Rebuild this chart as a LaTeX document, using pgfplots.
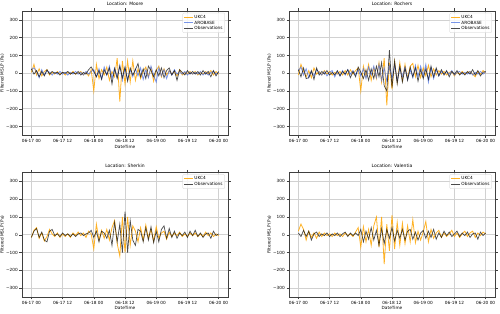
\documentclass[border=0pt]{standalone}
\usepackage{fontspec}
\setmainfont{DejaVu Sans}
\usepackage{pgfplots}
\usepackage{pgfplotstable}
\pgfplotsset{compat=1.18}

\definecolor{ukc}{HTML}{FFA500}
\definecolor{aro}{HTML}{4169E1}
\definecolor{obs}{HTML}{000000}

% Filtered MSLP, hourly from 06-17 00 (t in hours)
\pgfplotstableread{
t  ukc  aro  obs
0    5   20   25
1   50   30   -5
2  -10   10   15
3   25  -25  -20
4  -15   20   10
5   10  -10  -15
6   20   15   20
7  -10    5   -5
8    5  -10   10
9   -5    5    0
10  10   -5    5
11  -5   10  -10
12   5   -5    5
13 -10    5    0
14   5  -10   10
15  -5    5   -5
16  10   -5    5
17  -5   10   -5
18   0   -5   10
19  10    5  -10
20 -10  -10    5
21   5   10   -5
22 -15   -5   20
23  20   10   35
24 -100  20   10
25  50  -20  -20
26 -30   25   15
27  20  -30  -35
28 -10   35   20
29  35  -10  -10
30 -40   40   30
31  10  -30  -60
32 -20   30   25
33  85  -20  -30
34 -160  45   40
35  70  -40  -25
36 -60   30   35
37  70  -35  -45
38 -50   20   30
39  70  -20  -10
40 -40   25   20
41  25  -15   55
42 -30   30  -20
43  10  -35   25
44  35   20  -30
45 -20  -25   40
46  30   40   15
47 -45  -10  -20
48  15  -50   20
49  40   30  -15
50 -20  -15   30
51  25   20  -25
52 -10  -30   15
53  15   15   30
54  -5  -10  -10
55  10   20   15
56 -15   -5  -40
57  20   10   20
58 -10   -5    5
59   5   10  -10
60  -5  -10   15
61  10    5   -5
62  -5   -5   10
63  10    5   -5
64 -10   -5   10
65   5   10  -10
66  -5  -10   15
67  10    5   -5
68  -5  -10   10
69  15    5  -20
70 -10   10   15
71  10   -5  -15
72  -5    5   10
}\moore

\pgfplotstableread{
t  ukc  aro  obs
0  -10   15   20
1   50   35  -20
2   10  -10   30
3  -20   25  -30
4   15  -25  -25
5  -25   10   15
6   30  -15  -35
7   -5   20   30
8   10    5  -10
9  -10  -10   10
10  15   10   -5
11  -5  -15   15
12  10    5  -10
13 -10   15    5
14   5  -20  -10
15  -5   10   15
16  10  -15  -15
17 -10   15   10
18  15  -10   -5
19 -10   20   20
20  20   -5  -25
21  -5   15   10
22  15  -10  -20
23  30   20   35
24 -100 -15    5
25  40   25  -30
26 -20  -30   20
27  50   35  -40
28 -40  -10   25
29  30   40  -30
30 -30  -25   40
31  60   50  -20
32 -50  -40   60
33  85   30  -70
34 -180 -45 -100
35  60   40  130
36 -90  -30  -80
37  65   45   70
38 -50  -40  -60
39  60   30   40
40 -40  -20  -50
41  50   35   30
42 -30  -35  -40
43  40   20   35
44  55  -25  -20
45 -20   45   30
46  45  -20  -45
47 -25   40   20
48  30  -15  -30
49 -15   50   25
50  45  -50  -35
51 -20   30   40
52  25  -30  -20
53 -10   20   30
54  15  -15  -15
55  -5   10   20
56  10   -5  -10
57 -10   10   15
58   5   -5  -20
59  10   15   10
60 -15  -10   -5
61   5    5   15
62  -5   10  -10
63  10   -5    5
64  -5    5  -10
65   5   -5   10
66  10   10   -5
67  -5  -10   20
68 -20    5  -10
69  10   -5   15
70  -5   10  -15
71  15   -5    5
72   0    5   10
}\rochers

\pgfplotstableread{
t  ukc  obs
0  -15  -15
1   25   20
2   40   35
3  -20  -15
4   10   15
5  -35  -30
6  -10  -40
7   30   20
8    5   30
9  -10   -5
10  10    5
11 -15  -10
12   5   10
13 -10   -5
14   5    5
15 -15  -10
16  10    5
17  -5  -10
18  15    5
19  -5   10
20  10   -5
21 -15    5
22  20   10
23   5   25
24 -80  -15
25  60   20
26 -30  -40
27  25   20
28 -20   10
29  30  -20
30 -30   25
31  40  -60
32  80   70
33 -50  -40
34 -120  60
35 100 -100
36 -100 130
37 100 -100
38 -60   80
39  50  -30
40  20  -60
41 -40   30
42  40   20
43 -30  -40
44  55   40
45 -20  -30
46  30   45
47 -35  -45
48  45   20
49 -20  -40
50  10   30
51  20   50
52 -25  -20
53  15   35
54 -10  -15
55  10   20
56  -5  -20
57  15   10
58 -10   -5
59   5   15
60 -10  -15
61  10   20
62  -5   -5
63  10   25
64 -10  -10
65   5   10
66 -10  -15
67  15    5
68  -5   10
69  10  -20
70 -10   20
71   5   -5
72  -5    5
}\sherkin

\pgfplotstableread{
t  ukc  obs
0   20   10
1   60  -10
2   30   25
3  -30  -10
4   20   20
5  -15  -30
6   10    5
7  -20   15
8   15  -10
9  -10    5
10  10   -5
11  -5   10
12   5  -10
13 -10    5
14  10   -5
15  -5   10
16   5  -10
17 -10    5
18  10   15
19  -5  -10
20   5   10
21 -10   -5
22  15   10
23  40   -5
24 -70   30
25  45  -40
26 -40   20
27  30  -25
28 -60   40
29  50  -30
30 100   25
31 -70  -60
32 100   35
33 -165 -50
34  60   30
35 -90  -20
36 110   40
37 -80  -35
38  70   25
39 -60  -20
40  65   30
41 -50  -30
42  50   20
43 -40   30
44  85  -25
45 -45   15
46  20  -30
47 -30   10
48  15   25
49  75  -20
50 -40   20
51  30  -15
52 -20   30
53  10  -25
54  25   10
55 -15  -15
56  10   20
57 -10   -5
58   5   15
59  25  -10
60 -10    5
61  10   20
62 -15  -10
63   5   10
64  20   -5
65 -10   15
66  10  -15
67  20    5
68 -15   10
69  10  -25
70  -5   15
71  15   -5
72   5   10
}\valentia

\pgfplotsset{
  panel/.style={
    scale only axis, width=412pt, height=249pt,
    xmin=-3.6, xmax=75.6, ymin=-350, ymax=350,
    xtick={0,12,...,72},
    xticklabels={06-17 00,06-17 12,06-18 00,06-18 12,06-19 00,06-19 12,06-20 00},
    ytick={-300,-200,...,300},
    yticklabels={−300,−200,−100,0,100,200,300},
    grid=major, grid style={black!18, line width=1.4pt},
    axis line style={black!75, line width=1pt},
    tick align=outside, major tick length=5pt,
    tick style={black!75, line width=0.9pt},
    ticklabel style={font=\fontsize{8.5}{9.5}\selectfont},
    label style={font=\fontsize{8.5}{9.5}\selectfont},
    title style={font=\fontsize{9}{10}\selectfont, yshift=1pt},
    xlabel={DateTime}, ylabel={Filtered MSLP (Pa)},
    xlabel style={yshift=3pt}, ylabel style={yshift=-3pt},
    legend style={at={(0.985,0.985)}, anchor=north east,
      font=\fontsize{8.5}{9.5}\selectfont, draw=black!20, rounded corners=2pt,
      fill=white, fill opacity=0.8, text opacity=1, inner sep=2.5pt,
      row sep=-0.5pt},
    legend cell align=left,
    legend image code/.code={\draw[##1, line width=2pt] (0pt,0pt) -- (17pt,0pt);},
  },
  ukcline/.style={ukc, draw opacity=0.85, line width=1.6pt},
  aroline/.style={aro, draw opacity=0.7, line width=1.6pt},
  obsline/.style={obs, draw opacity=0.7, line width=1.4pt},
}

\begin{document}
\begin{tikzpicture}
\useasboundingbox (0,0) rectangle (1000pt,628pt);

\begin{axis}[panel, at={(44pt,357pt)}, anchor=south west, title={Location: Moore}]
  \addplot[ukcline] table[x=t, y=ukc] {\moore};
  \addplot[aroline] table[x=t, y=aro] {\moore};
  \addplot[obsline] table[x=t, y=obs] {\moore};
  \legend{UKC4, AROBASE, Observations}
\end{axis}

\begin{axis}[panel, at={(578pt,357pt)}, anchor=south west, title={Location: Rochers}]
  \addplot[ukcline] table[x=t, y=ukc] {\rochers};
  \addplot[aroline] table[x=t, y=aro] {\rochers};
  \addplot[obsline] table[x=t, y=obs] {\rochers};
  \legend{UKC4, AROBASE, Observations}
\end{axis}

\begin{axis}[panel, at={(44pt,34pt)}, anchor=south west, title={Location: Sherkin}]
  \addplot[ukcline] table[x=t, y=ukc] {\sherkin};
  \addplot[obsline] table[x=t, y=obs] {\sherkin};
  \legend{UKC4, Observations}
\end{axis}

\begin{axis}[panel, at={(578pt,34pt)}, anchor=south west, title={Location: Valentia}]
  \addplot[ukcline] table[x=t, y=ukc] {\valentia};
  \addplot[obsline] table[x=t, y=obs] {\valentia};
  \legend{UKC4, Observations}
\end{axis}
\end{tikzpicture}
\end{document}
